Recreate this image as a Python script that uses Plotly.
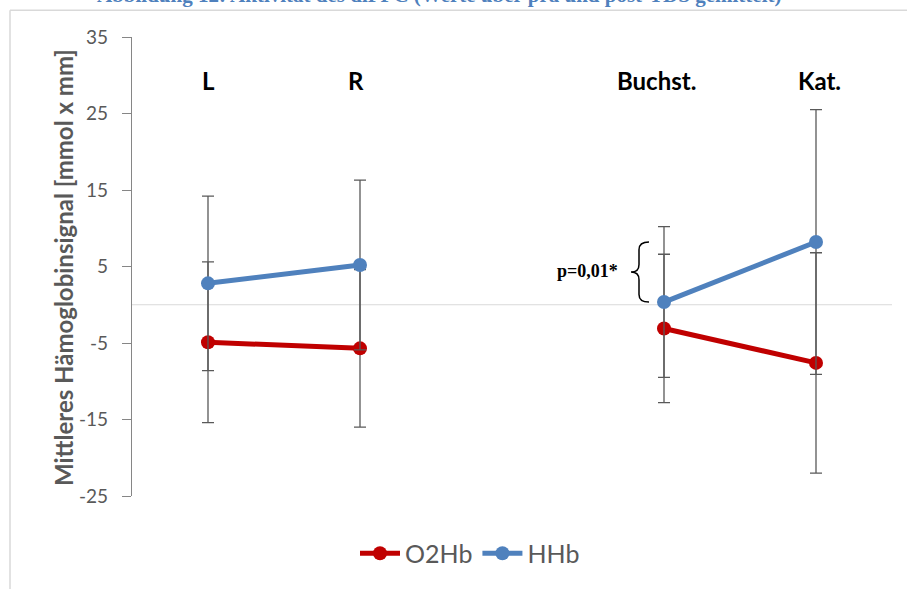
import plotly.graph_objects as go

# ---- data ----
slots = ["L", "R", None, "Buchst.", "Kat."]          # None = empty gap slot
o2hb = [-4.9, -5.7, None, -3.1, -7.6]
o2hb_err = [10.5, 10.3, None, 9.7, 14.4]
hhb = [2.8, 5.2, None, 0.35, 8.2]
hhb_err = [11.4, 11.1, None, 9.85, 17.3]
y_ticks = [35, 25, 15, 5, -5, -15, -25]
y_ticktext = ["35", "25", "15", "5", "-5", "-15", "-25"]
series_names = ["O2Hb", "HHb"]
colors = ["#C00000", "#4F81BD"]
title_text = "Abbildung 12: Aktivität des dlPFC (Werte über prä und post-TDS gemittelt)"
y_title = "Mittleres Hämoglobinsignal [mmol x mm]"
p_text = "p=0,01*"

W, H = 907, 589
ML, MR, MT, MB = 132, 15, 37, 89
PW, PH = W - ML - MR, H - MT - MB

def px_x(p):
    return (p - ML) / PW

def px_y(p):
    return 1 - (p - MT) / PH

xs = list(range(len(slots)))

fig = go.Figure()
for name, vals, errs, col in zip(series_names, [o2hb, hhb], [o2hb_err, hhb_err], colors):
    fig.add_trace(go.Scatter(
        x=xs, y=vals, name=name, mode="lines+markers",
        connectgaps=False,
        line=dict(color=col, width=5),
        marker=dict(color=col, size=14),
        error_y=dict(type="data", array=errs, visible=True,
                     color="#595959", thickness=1.3, width=6),
    ))

label_shift = {"Buchst.": -8, "Kat.": 3, "R": -4}
annotations = []
for i, s in enumerate(slots):
    if s:
        annotations.append(dict(x=i, y=29.3, xref="x", yref="y", text=f"<b>{s}</b>",
                                xshift=label_shift.get(s, 0),
                                showarrow=False, font=dict(family="Lato", size=24, color="#000000")))

# y axis title
annotations.append(dict(x=px_x(64), y=px_y(270), xref="paper", yref="paper",
                        xanchor="center", yanchor="middle",
                        text=f"<b>{y_title}</b>", textangle=-90, showarrow=False,
                        font=dict(family="Lato", size=24, color="#595959")))

# clipped document caption at the very top
annotations.append(dict(x=px_x(95), y=px_y(9), xref="paper", yref="paper",
                        xanchor="left", yanchor="bottom", text=f"<b>{title_text}</b>",
                        showarrow=False,
                        font=dict(family="Liberation Serif", size=21, color="#4F81BD")))

# significance bracket between Buchst. HHb and Kat. HHb
bi = slots.index("Buchst.")
ki = slots.index("Kat.")
y_top, y_bot = hhb[ki], hhb[bi]
y_mid = (y_top + y_bot) / 2
xr = bi - 15 / 152.0
xs_ = bi - 25 / 152.0
xt = bi - 33 / 152.0
dy = 1.0
path = (f"M {xr},{y_top} Q {xs_},{y_top} {xs_},{y_top - dy} "
        f"L {xs_},{y_mid + dy} Q {xs_},{y_mid} {xt},{y_mid} "
        f"Q {xs_},{y_mid} {xs_},{y_mid - dy} "
        f"L {xs_},{y_bot + dy} Q {xs_},{y_bot} {xr},{y_bot}")

annotations.append(dict(x=bi - 44 / 152.0, y=y_mid + 0.2, xref="x", yref="y",
                        xanchor="right", text=f"<b>{p_text}</b>", showarrow=False,
                        font=dict(family="Liberation Serif", size=18, color="#000000")))

shapes = [
    dict(type="path", path=path, xref="x", yref="y",
         line=dict(color="#000000", width=1.5)),
    # zero line
    dict(type="line", xref="paper", yref="y", x0=0, x1=1, y0=0, y1=0,
         line=dict(color="#D9D9D9", width=1.2), layer="below"),
    # outer frame (left & top)
    dict(type="line", xref="paper", yref="paper", x0=px_x(10), x1=px_x(W + 5),
         y0=px_y(10), y1=px_y(10), line=dict(color="#D9D9D9", width=1.5)),
    dict(type="line", xref="paper", yref="paper", x0=px_x(10), x1=px_x(10),
         y0=px_y(10), y1=px_y(H + 5), line=dict(color="#D9D9D9", width=1.5)),
]

fig.update_layout(
    width=W, height=H,
    margin=dict(l=ML, r=MR, t=MT, b=MB),
    paper_bgcolor="white", plot_bgcolor="white",
    showlegend=True,
    legend=dict(orientation="h", x=px_x(470), xanchor="center", y=px_y(558), yanchor="middle",
                font=dict(family="Lato", size=25, color="#595959"),
                itemwidth=40, tracegroupgap=0),
    xaxis=dict(range=[-0.5, len(slots) - 0.5], showgrid=False, zeroline=False,
               showticklabels=False, ticks="", showline=False),
    yaxis=dict(range=[-25, 35], tickvals=y_ticks, ticktext=y_ticktext,
               showgrid=False, zeroline=False,
               showline=True, linecolor="#868686", linewidth=1.2,
               ticks="outside", ticklen=9, tickcolor="#868686", tickwidth=1.2,
               ticklabelstandoff=10, automargin=False,
               tickfont=dict(family="Lato", size=19, color="#595959")),
    annotations=annotations,
    shapes=shapes,
)

fig.write_html("out.html", config={"displayModeBar": False},
               post_script="document.body.style.margin='0';document.body.style.overflow='hidden';")
